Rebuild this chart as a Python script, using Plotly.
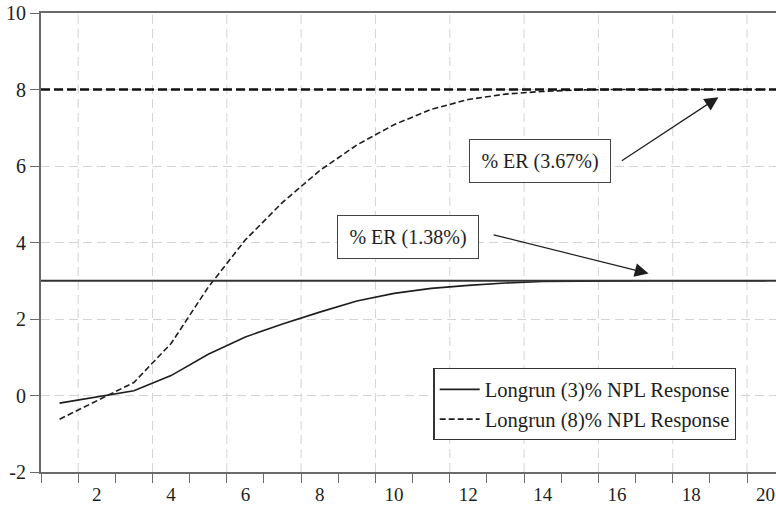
import plotly.graph_objects as go

# Impulse responses over a 20-period horizon
periods = list(range(1, 21))
resp_3pct = [-0.20, -0.03, 0.125, 0.52, 1.08, 1.53, 1.87, 2.18, 2.47, 2.67,
             2.80, 2.88, 2.94, 2.98, 2.99, 3.0, 3.0, 3.0, 3.0, 3.0]
resp_8pct = [-0.62, -0.15, 0.34, 1.36, 2.83, 4.07, 5.05, 5.88, 6.55, 7.08,
             7.48, 7.74, 7.88, 7.95, 7.99, 8.0, 8.0, 8.0, 8.0, 8.0]

# Long-run levels
longrun_low = 3.0
longrun_high = 8.0

series_names = ["Longrun (3)% NPL Response", "Longrun (8)% NPL Response"]
x_labels = [2, 4, 6, 8, 10, 12, 14, 16, 18, 20]
y_ticks = [-2, 0, 2, 4, 6, 8, 10]

# Annotation boxes: text, box centre, arrow tail, arrow tip (data units)
notes = [
    ("% ER (1.38%)", (10.37, 4.15), (12.64, 4.21), (16.85, 3.19)),
    ("% ER (3.67%)", (13.94, 6.14), (16.09, 6.11), (18.73, 7.80)),
]

FONT = "Liberation Serif"
FS = 20
INK = "#1e1e1e"
AXIS = "#6a6a6a"
GRID = "#d4d4d4"

# tick marks sit on the boundaries between observations
tick_bounds = [p - 0.5 for p in periods] + [periods[-1] + 0.5]
grid_x = [b for b in tick_bounds if int(b - 0.5) % 2 == 1]

fig = go.Figure()

fig.add_trace(go.Scatter(
    x=periods, y=resp_3pct, mode="lines", name=series_names[0],
    line=dict(color=INK, width=1.6),
))
fig.add_trace(go.Scatter(
    x=periods, y=resp_8pct, mode="lines", name=series_names[1],
    line=dict(color=INK, width=1.6, dash="6px,3px"),
))

fig.add_hline(y=longrun_low, line=dict(color="#333333", width=2.2), layer="above")
fig.add_hline(y=longrun_high, line=dict(color="#111111", width=2.4, dash="9px,4px"),
              layer="above")

for gx in grid_x:
    fig.add_vline(x=gx, line=dict(color=GRID, width=1, dash="9px,5px"), layer="below")

for text, (bx, by), (tx, ty), (hx, hy) in notes:
    fig.add_annotation(
        x=bx, y=by, xref="x", yref="y", text=text, showarrow=False,
        font=dict(family=FONT, size=FS, color=INK),
        width=122, height=24, align="center",
        bgcolor="white", bordercolor="#444444", borderwidth=1, borderpad=9,
    )
    fig.add_annotation(
        x=hx, y=hy, ax=tx, ay=ty, xref="x", yref="y", axref="x", ayref="y",
        text="", showarrow=True, arrowhead=2, arrowsize=2.3, arrowwidth=1.2,
        arrowcolor=INK, standoff=0,
    )

fig.update_layout(
    width=776, height=508, autosize=False,
    margin=dict(l=41, r=0, t=13, b=36, pad=0),
    paper_bgcolor="white", plot_bgcolor="white",
    font=dict(family=FONT, size=FS, color=INK),
    showlegend=True,
    legend=dict(
        x=0.534, y=0.226, xanchor="left", yanchor="top",
        bgcolor="white", bordercolor="#333333", borderwidth=1.2,
        font=dict(family=FONT, size=20.6, color=INK),
        tracegroupgap=0, itemwidth=40,
    ),
    xaxis=dict(
        range=[0.5, 0.5 + 735 / 37.16], automargin=False,
        tickmode="array", tickvals=x_labels, ticktext=[str(v) for v in x_labels],
        ticks="outside", ticklen=4, tickcolor="rgba(0,0,0,0)",
        showgrid=False, zeroline=False,
        showline=True, linecolor=AXIS, linewidth=2, mirror=True,
        tickfont=dict(family=FONT, size=19, color=INK),
        minor=dict(tickmode="array", tickvals=tick_bounds, ticks="outside",
                   ticklen=9, tickwidth=1.2, tickcolor=AXIS, showgrid=False),
    ),
    yaxis=dict(
        range=[-2, 10], automargin=False, tickmode="array", tickvals=y_ticks,
        ticktext=[str(v) for v in y_ticks],
        ticks="outside", ticklen=9, tickwidth=1.2, tickcolor=AXIS,
        showgrid=True, gridcolor=GRID, gridwidth=1, griddash="9px,5px",
        zeroline=False, showline=True, linecolor=AXIS, linewidth=2,
        tickfont=dict(family=FONT, size=FS, color=INK),
    ),
)

fig.write_html("out.html")
